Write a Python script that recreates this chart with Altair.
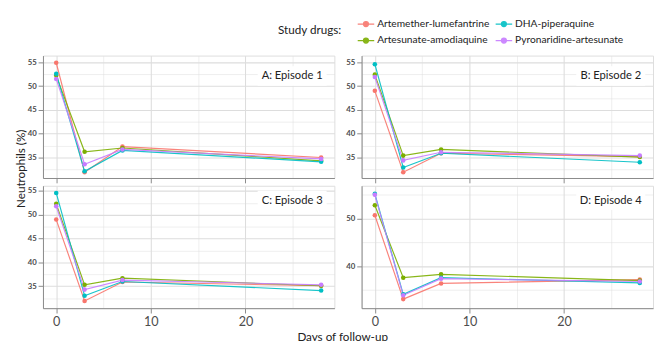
import altair as alt
import pandas as pd

# ---------------- data ----------------
days = [0, 3, 7, 28]
drugs = ["Artemether-lumefantrine", "Artesunate-amodiaquine", "DHA-piperaquine", "Pyronaridine-artesunate"]
legend_order = ["Artemether-lumefantrine", "DHA-piperaquine", "Artesunate-amodiaquine", "Pyronaridine-artesunate"]
legend_colors = ["#F8766D", "#00BFC4", "#7CAE00", "#C77CFF"]
panel_titles = ["A: Episode 1", "B: Episode 2", "C: Episode 3", "D: Episode 4"]

# Episode 1 (A)
ep1_al = [54.9, 31.9, 37.3, 35.0]
ep1_asaq = [52.2, 36.2, 37.0, 34.3]
ep1_dha = [52.6, 32.1, 36.5, 34.1]
ep1_pa = [51.5, 33.6, 36.7, 34.7]
# Episode 2 (B)
ep2_al = [49.0, 31.9, 35.9, 35.2]
ep2_asaq = [52.4, 35.4, 36.7, 35.1]
ep2_dha = [54.6, 32.9, 35.9, 34.0]
ep2_pa = [51.9, 34.4, 36.1, 35.4]
# Episode 3 (C)
ep3_al = [49.0, 31.9, 35.9, 35.1]
ep3_asaq = [52.3, 35.3, 36.7, 35.1]
ep3_dha = [54.6, 33.0, 36.0, 34.1]
ep3_pa = [51.8, 34.3, 36.3, 35.3]
# Episode 4 (D)
ep4_al = [50.7, 33.1, 36.4, 37.2]
ep4_asaq = [52.8, 37.6, 38.3, 37.0]
ep4_dha = [55.2, 34.1, 37.6, 36.5]
ep4_pa = [55.0, 33.9, 37.4, 36.8]

episodes = [
    [ep1_al, ep1_asaq, ep1_dha, ep1_pa],
    [ep2_al, ep2_asaq, ep2_dha, ep2_pa],
    [ep3_al, ep3_asaq, ep3_dha, ep3_pa],
    [ep4_al, ep4_asaq, ep4_dha, ep4_pa],
]

y_domains = [[30.7, 56.4], [30.7, 56.4], [30.4, 56.1], [31.2, 56.9]]
y_values_abc = [32.5, 35, 37.5, 40, 42.5, 45, 47.5, 50, 52.5, 55]
y_values_d = [35, 40, 45, 50, 55]
x_values = [0, 5, 10, 15, 20, 25]

FONT = "Lato"
W, H = 300, 126

LEG_PATH = "M-1,0L1,0M-0.3,0A0.3,0.3 0 1,0 0.3,0A0.3,0.3 0 1,0 -0.3,0Z"


def make_panel(i, show_xlabels, show_ytitle, show_xtitle, show_legend, label_y):
    rows = []
    for d, series in zip(drugs, episodes[i]):
        for day, v in zip(days, series):
            rows.append({"day": day, "drug": d, "value": v})
    df = pd.DataFrame(rows)

    if i == 3:
        yvals, ymajor = y_values_d, "datum.value % 10 === 0"
    else:
        yvals, ymajor = y_values_abc, "datum.value % 5 === 0"
    xmajor = "datum.value % 10 === 0"

    x_axis = alt.Axis(
        values=x_values,
        labelExpr=("datum.value % 10 === 0 ? datum.label : ''") if show_xlabels else "''",
        gridWidth={"condition": {"test": xmajor, "value": 1.1}, "value": 0.5},
        tickOpacity={"condition": {"test": xmajor, "value": 1}, "value": 0},
        labelFontSize=13,
        labelColor="#4D4D4D",
        labelPadding=3,
        title="Days of follow-up" if show_xtitle else None,
        titleX=308, titleFontSize=12, titleFontWeight="normal", titleColor="#222222",
        titlePadding=3,
    )
    y_axis = alt.Axis(
        values=yvals,
        labelExpr="(" + ymajor + ") ? datum.label : ''",
        gridWidth={"condition": {"test": ymajor, "value": 1.1}, "value": 0.5},
        tickOpacity={"condition": {"test": ymajor, "value": 1}, "value": 0},
        labelFontSize=8,
        labelFontWeight="bold",
        labelColor="#4D4D4D",
        labelPadding=2,
        title="Neutrophils (%)" if show_ytitle else None,
        titleX=-16, titleY=116, titleFontSize=12, titleFontWeight="normal",
        titleColor="#222222", titleAngle=270, titleBaseline="bottom", titleAlign="center",
    )

    if show_legend:
        legend = alt.Legend(
            orient="none", legendX=242, legendY=-42, padding=0,
            title="Study drugs:", titleOrient="left", titleAnchor="middle",
            titleFontSize=12, titleFontWeight="normal", titleColor="#222222",
            titlePadding=15, titleFont=FONT,
            columns=2, direction="horizontal",
            symbolType=LEG_PATH, symbolSize=289, symbolStrokeWidth=1.3,
            labelFontSize=10.5, labelFont=FONT, labelColor="#222222",
            labelOffset=2, rowPadding=2, columnPadding=3,
        )
    else:
        legend = None

    color = alt.Color(
        "drug:N",
        scale=alt.Scale(domain=legend_order, range=legend_colors),
        legend=legend,
    )

    lines = alt.Chart(df).mark_line(
        strokeWidth=1.2, opacity=0.9,
        point=alt.OverlayMarkDef(filled=True, size=22),
    ).encode(
        x=alt.X("day:Q", scale=alt.Scale(domain=[-1.4, 29.4], nice=False, zero=False), axis=x_axis),
        y=alt.Y("value:Q", scale=alt.Scale(domain=y_domains[i], nice=False, zero=False), axis=y_axis),
        color=color,
        order=alt.Order("day:Q"),
        detail="drug:N",
    )

    lab_df = pd.DataFrame({"label": [panel_titles[i]]})
    box = alt.Chart(lab_df).mark_rect(color="white").encode(
        x=alt.value(W - 79), x2=alt.value(W - 8),
        y=alt.value(label_y - 10), y2=alt.value(label_y + 10),
    )
    txt = alt.Chart(lab_df).mark_text(
        font=FONT, fontSize=11.5, color="#222222", align="center", baseline="middle"
    ).encode(
        x=alt.value(W - 43.5), y=alt.value(label_y + 0.5), text="label:N",
    )
    return alt.layer(lines, box, txt).properties(width=W, height=H)


pA = make_panel(0, False, True, False, True, 21)
pB = make_panel(1, False, False, False, False, 21)
pC = make_panel(2, True, False, True, False, 15)
pD = make_panel(3, True, False, False, False, 15)

chart = alt.concat(
    pA, pB, pC, pD,
    columns=2,
    spacing={"row": 8, "column": 28},
    bounds="flush",
).properties(
    padding={"left": 6, "top": 2, "right": 0, "bottom": 0},
).configure_view(
    fill="#EBEBEB", stroke="transparent"
).configure_axis(
    domain=False,
    gridColor="white",
    tickColor="#333333",
    tickSize=3,
    labelFont=FONT,
    titleFont=FONT,
).configure(
    font=FONT
)

chart.save("out.html", embed_options={"renderer": "svg", "actions": False})
